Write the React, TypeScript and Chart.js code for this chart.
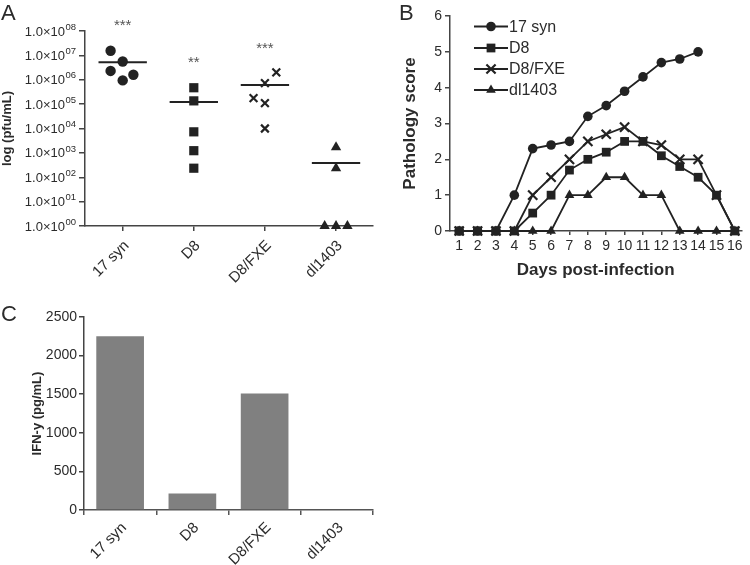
import React, { useEffect, useRef } from 'react';
import { Chart, registerables } from 'chart.js';

Chart.register(...registerables);

// ---------- DATA ----------
const groups = ['17 syn', 'D8', 'D8/FXE', 'dl1403'];

// Panel A: virus titers (pfu/mL), one value per animal
const titer17syn = [1.55e7, 5.6e6, 2.3e6, 9.4e5, 1.6e6];
const titerD8 = [4.7e5, 1.36e5, 7.3e3, 1.23e3, 2.35e2];
const titerD8FXE = [1.75e5, 7.3e5, 2.0e6, 1.1e5, 1.0e4];
const titerDl1403 = [1.7e3, 2.35e2, 1, 1, 1];
// horizontal jitter of the dots within a group (category units)
const jitter17syn = [-0.17, 0, -0.17, 0, 0.15];
const jitterD8 = [0, 0, 0, 0, 0];
const jitterD8FXE = [-0.16, 0, 0.16, 0, 0];
const jitterDl1403 = [0, 0, -0.16, 0, 0.16];
const significance = ['***', '**', '***', ''];
const significanceAt = [1.7e8, 5.0e6, 1.9e7, 1];
const titerTicks = [1, 1e1, 1e2, 1e3, 1e4, 1e5, 1e6, 1e7, 1e8];

// Panel B: pathology score by day
const days = [1, 2, 3, 4, 5, 6, 7, 8, 9, 10, 11, 12, 13, 14, 15, 16];
const score17syn = [0, 0, 0, 1, 2.3, 2.4, 2.5, 3.2, 3.5, 3.9, 4.3, 4.7, 4.8, 5.0, null, null];
const scoreD8 = [0, 0, 0, 0, 0.5, 1.0, 1.7, 2.0, 2.2, 2.5, 2.5, 2.1, 1.8, 1.5, 1.0, 0];
const scoreD8FXE = [0, 0, 0, 0, 1.0, 1.5, 2.0, 2.5, 2.7, 2.9, 2.5, 2.4, 2.0, 2.0, 1.0, 0];
const scoreDl1403 = [0, 0, 0, 0, 0, 0, 1, 1, 1.5, 1.5, 1, 1, 0, 0, 0, 0];
const pathologyTicks = [0, 1, 2, 3, 4, 5, 6];

// Panel C: IFN-y (pg/mL)
const ifnGamma = [2250, 215, 1510, 0];
const ifnTicks = [0, 500, 1000, 1500, 2000, 2500];

// ---------- STYLE ----------
const FONT = "'Liberation Sans', Arial, Helvetica, sans-serif";
const TEXT = '#2b2b2b';
const AXIS = '#444444';
const MARK = '#222222';
Chart.defaults.font.family = FONT;
Chart.defaults.color = TEXT;

const mean = (a: number[]) => a.reduce((s, v) => s + v, 0) / a.length;

const panelLabel = {
  id: 'panelLabel',
  afterDraw(chart: any, _a: any, opts: any) {
    const { ctx } = chart;
    ctx.save();
    ctx.font = `22px ${FONT}`;
    ctx.fillStyle = TEXT;
    ctx.textAlign = 'left';
    ctx.textBaseline = 'top';
    ctx.fillText(opts.text, opts.x, opts.y);
    ctx.restore();
  },
};

function drawMarker(ctx: CanvasRenderingContext2D, style: string, x: number, y: number, r: number) {
  ctx.beginPath();
  if (style === 'circle') {
    ctx.arc(x, y, r, 0, Math.PI * 2);
    ctx.fill();
  } else if (style === 'rect') {
    const s = r * Math.SQRT1_2;
    ctx.fillRect(x - s, y - s, 2 * s, 2 * s);
  } else if (style === 'triangle') {
    ctx.moveTo(x, y - r);
    ctx.lineTo(x + r * 0.866, y + r / 2);
    ctx.lineTo(x - r * 0.866, y + r / 2);
    ctx.closePath();
    ctx.fill();
  } else if (style === 'crossRot') {
    const d = r * Math.SQRT1_2;
    ctx.moveTo(x - d, y - d);
    ctx.lineTo(x + d, y + d);
    ctx.moveTo(x - d, y + d);
    ctx.lineTo(x + d, y - d);
    ctx.stroke();
  }
}

// ---------- PANEL A ----------
function PanelA() {
  const ref = useRef<HTMLCanvasElement>(null);
  useEffect(() => {
    const titers = [titer17syn, titerD8, titerD8FXE, titerDl1403];
    const jitters = [jitter17syn, jitterD8, jitterD8FXE, jitterDl1403];
    const styles = [
      { pointStyle: 'circle', pointRadius: 5.2, borderWidth: 0 },
      { pointStyle: 'rect', pointRadius: 6.5, borderWidth: 0 },
      { pointStyle: 'crossRot', pointRadius: 5.5, borderWidth: 2.2 },
      { pointStyle: 'triangle', pointRadius: 6, borderWidth: 0 },
    ];
    const datasets: any[] = titers.map((vals, g) => ({
      type: 'scatter',
      label: groups[g],
      data: vals.map((v, i) => ({ x: g + 1 + jitters[g][i], y: v })),
      backgroundColor: MARK,
      borderColor: MARK,
      clip: false,
      ...styles[g],
      pointBorderWidth: styles[g].borderWidth,
    }));
    titers.forEach((vals, g) => {
      const m = mean(vals);
      datasets.push({
        type: 'line',
        label: groups[g] + ' mean',
        data: [
          { x: g + 1 - 0.34, y: m },
          { x: g + 1 + 0.34, y: m },
        ],
        borderColor: MARK,
        borderWidth: 2,
        pointRadius: 0,
        clip: false,
      });
    });

    const starPlugin = {
      id: 'stars',
      afterDraw(chart: any) {
        const { ctx, scales } = chart;
        ctx.save();
        ctx.font = `15px ${FONT}`;
        ctx.fillStyle = '#555';
        ctx.textAlign = 'center';
        ctx.textBaseline = 'middle';
        significance.forEach((s, g) => {
          if (!s) return;
          ctx.fillText(s, scales.x.getPixelForValue(g + 1), scales.y.getPixelForValue(significanceAt[g]));
        });
        ctx.restore();
      },
    };
    const yLabelPlugin = {
      id: 'titerLabels',
      afterDraw(chart: any) {
        const { ctx } = chart;
        const y = chart.scales.y;
        ctx.save();
        ctx.fillStyle = TEXT;
        ctx.textBaseline = 'middle';
        ctx.textAlign = 'right';
        const right = y.right - 9;
        titerTicks.forEach((v) => {
          const py = y.getPixelForValue(v);
          const exp = String(Math.round(Math.log10(v))).padStart(2, '0');
          ctx.font = `9.5px ${FONT}`;
          ctx.fillText(exp, right, py - 4);
          const w = ctx.measureText(exp).width;
          ctx.font = `13px ${FONT}`;
          ctx.fillText('1.0\u00d710', right - w - 0.5, py + 1);
        });
        ctx.restore();
      },
    };

    const chart = new Chart(ref.current!, {
      type: 'scatter',
      data: { datasets },
      plugins: [panelLabel, starPlugin, yLabelPlugin],
      options: {
        animation: false,
        responsive: false,
        devicePixelRatio: 1,
        layout: { padding: { top: 31, right: 4, left: 0, bottom: 0 } },
        plugins: {
          legend: { display: false },
          tooltip: { enabled: false },
          panelLabel: { text: 'A', x: 1, y: 3 },
        } as any,
        scales: {
          x: {
            type: 'linear',
            min: 0.47,
            max: 4.51,
            afterBuildTicks: (s: any) => {
              s.ticks = groups.map((_, i) => ({ value: i + 1 }));
            },
            afterFit: (s: any) => {
              s.height = 64;
            },
            grid: { drawOnChartArea: false, drawTicks: true, tickLength: 5, color: AXIS, lineWidth: 1.5 },
            border: { display: true, color: AXIS, width: 1.5 },
            ticks: {
              autoSkip: false,
              minRotation: 45,
              maxRotation: 45,
              padding: 6,
              labelOffset: 4,
              font: { size: 15 },
              color: TEXT,
              callback: (v: any) => groups[Math.round(v) - 1] ?? '',
            },
          },
          y: {
            type: 'logarithmic',
            min: 1,
            max: 1e8,
            afterBuildTicks: (s: any) => {
              s.ticks = titerTicks.map((v) => ({ value: v }));
            },
            afterFit: (s: any) => {
              s.width = 85;
            },
            grid: { drawOnChartArea: false, drawTicks: true, tickLength: 6, color: AXIS, lineWidth: 1.5 },
            border: { display: true, color: AXIS, width: 1.5 },
            ticks: { display: false },
            title: {
              display: true,
              text: 'log (pfu/mL)',
              font: { size: 13, weight: 'bold' },
              color: TEXT,
              padding: { top: 0, bottom: 0 },
            },
          },
        },
      } as any,
    });
    return () => chart.destroy();
  }, []);
  return (
    <canvas ref={ref} width={380} height={290}
      style={{ position: 'absolute', left: 0, top: 0, width: 380, height: 290 }} />
  );
}

// ---------- PANEL B ----------
function PanelB() {
  const ref = useRef<HTMLCanvasElement>(null);
  useEffect(() => {
    const series = [
      { label: '17 syn', data: score17syn, style: 'circle', r: 4.8, bw: 0, order: 1 },
      { label: 'D8', data: scoreD8, style: 'rect', r: 6.2, bw: 0, order: 0 },
      { label: 'D8/FXE', data: scoreD8FXE, style: 'crossRot', r: 6.5, bw: 2.2, order: 2 },
      { label: 'dl1403', data: scoreDl1403, style: 'triangle', r: 5.6, bw: 0, order: 3 },
    ];
    const datasets = series.map((s) => ({
      label: s.label,
      data: days.map((d, i) => ({ x: d, y: s.data[i] })),
      borderColor: MARK,
      backgroundColor: MARK,
      borderWidth: 1.8,
      pointStyle: s.style,
      pointRadius: s.r,
      pointBorderWidth: s.bw,
      pointBorderColor: MARK,
      pointBackgroundColor: MARK,
      spanGaps: false,
      order: s.order,
      clip: false,
    }));

    const legendPlugin = {
      id: 'lineLegend',
      afterDraw(chart: any) {
        const { ctx } = chart;
        const rows = [26.5, 48, 69, 90];
        ctx.save();
        ctx.strokeStyle = MARK;
        ctx.fillStyle = MARK;
        series.forEach((s, i) => {
          const y = rows[i];
          ctx.lineWidth = 1.8;
          ctx.beginPath();
          ctx.moveTo(94, y);
          ctx.lineTo(128, y);
          ctx.stroke();
          ctx.lineWidth = s.bw || 1;
          drawMarker(ctx, s.style, 111, y, s.r);
          ctx.font = `16px ${FONT}`;
          ctx.textAlign = 'left';
          ctx.textBaseline = 'middle';
          ctx.fillStyle = TEXT;
          ctx.fillText(s.label, 129, y + 1);
          ctx.fillStyle = MARK;
        });
        ctx.restore();
      },
    };

    const chart = new Chart(ref.current!, {
      type: 'line',
      data: { datasets } as any,
      plugins: [panelLabel, legendPlugin],
      options: {
        animation: false,
        responsive: false,
        devicePixelRatio: 1,
        layout: { padding: { top: 16, right: 0, left: 0, bottom: 0 } },
        plugins: {
          legend: { display: false },
          tooltip: { enabled: false },
          panelLabel: { text: 'B', x: 19, y: 3 },
        } as any,
        scales: {
          x: {
            type: 'linear',
            min: 0.5,
            max: 16.35,
            afterBuildTicks: (s: any) => {
              s.ticks = days.map((d) => ({ value: d }));
            },
            afterFit: (s: any) => {
              s.height = 59;
            },
            grid: { drawOnChartArea: false, drawTicks: true, tickLength: 4, color: AXIS, lineWidth: 1.5 },
            border: { display: true, color: AXIS, width: 1.5 },
            ticks: { autoSkip: false, maxRotation: 0, padding: 3, font: { size: 14 }, color: TEXT },
            title: {
              display: true,
              text: 'Days post-infection',
              font: { size: 17, weight: 'bold' },
              color: TEXT,
              padding: { top: 0, bottom: 9 },
            },
          },
          y: {
            type: 'linear',
            min: 0,
            max: 6,
            afterBuildTicks: (s: any) => {
              s.ticks = pathologyTicks.map((v) => ({ value: v }));
            },
            afterFit: (s: any) => {
              s.width = 70;
            },
            grid: { drawOnChartArea: false, drawTicks: true, tickLength: 5, color: AXIS, lineWidth: 1.5 },
            border: { display: true, color: AXIS, width: 1.5 },
            ticks: { padding: 3, font: { size: 14 }, color: TEXT },
            title: {
              display: true,
              text: 'Pathology score',
              font: { size: 17, weight: 'bold' },
              color: TEXT,
              padding: { top: 20, bottom: 0 },
            },
          },
        },
      } as any,
    });
    return () => chart.destroy();
  }, []);
  return (
    <canvas ref={ref} width={370} height={290}
      style={{ position: 'absolute', left: 380, top: 0, width: 370, height: 290 }} />
  );
}

// ---------- PANEL C ----------
function PanelC() {
  const ref = useRef<HTMLCanvasElement>(null);
  useEffect(() => {
    const chart = new Chart(ref.current!, {
      type: 'bar',
      data: {
        labels: groups,
        datasets: [
          {
            label: 'IFN-y',
            data: ifnGamma,
            backgroundColor: '#808080',
            borderWidth: 0,
            barPercentage: 0.66,
            categoryPercentage: 1,
          },
        ],
      },
      plugins: [panelLabel],
      options: {
        animation: false,
        responsive: false,
        devicePixelRatio: 1,
        layout: { padding: { top: 27, right: 7, left: 0, bottom: 0 } },
        plugins: {
          legend: { display: false },
          tooltip: { enabled: false },
          panelLabel: { text: 'C', x: 1, y: 14 },
        } as any,
        scales: {
          x: {
            afterFit: (s: any) => {
              s.height = 55;
            },
            grid: { drawOnChartArea: false, drawTicks: true, tickLength: 5, color: '#555', lineWidth: 1.5 },
            border: { display: true, color: '#555', width: 1.5 },
            ticks: {
              autoSkip: false,
              minRotation: 45,
              maxRotation: 45,
              padding: 4,
              labelOffset: 4,
              font: { size: 15 },
              color: TEXT,
            },
          },
          y: {
            min: 0,
            max: 2500,
            afterBuildTicks: (s: any) => {
              s.ticks = ifnTicks.map((v) => ({ value: v }));
            },
            afterFit: (s: any) => {
              s.width = 84;
            },
            grid: { drawOnChartArea: false, drawTicks: true, tickLength: 5, color: AXIS, lineWidth: 1.5 },
            border: { display: true, color: AXIS, width: 1.5 },
            ticks: { padding: 2, font: { size: 14 }, color: TEXT, callback: (v: any) => String(v) },
            title: {
              display: true,
              text: 'IFN-y (pg/mL)',
              font: { size: 13, weight: 'bold' },
              color: TEXT,
              padding: { top: 30, bottom: 0 },
            },
          },
        },
      } as any,
    });
    return () => chart.destroy();
  }, []);
  return (
    <canvas ref={ref} width={380} height={275}
      style={{ position: 'absolute', left: 0, top: 290, width: 380, height: 275 }} />
  );
}

export default function App() {
  return (
    <div style={{ position: 'fixed', left: 0, top: 0, width: 750, height: 565, background: '#fff', overflow: 'hidden' }}>
      <PanelA />
      <PanelB />
      <PanelC />
    </div>
  );
}
